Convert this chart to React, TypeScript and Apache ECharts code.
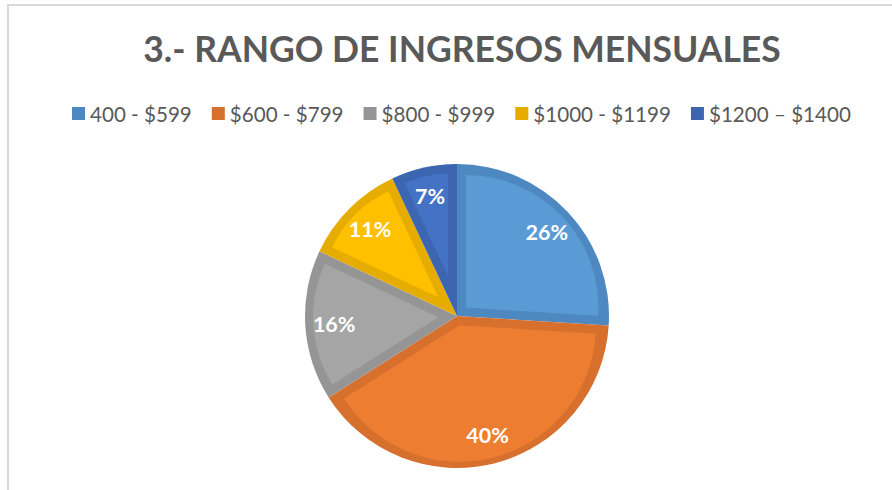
import React, { useEffect, useRef } from "react";
import * as echarts from "echarts";

const categories = ["400 - $599", "$600 - $799", "$800 - $999", "$1000 - $1199", "$1200 – $1400"];
const percents = [26, 40, 16, 11, 7];
const fillColors = ["#5B9BD5", "#ED7D31", "#A5A5A5", "#FFC000", "#4472C4"];
const edgeColors = ["#4E88C1", "#D6702C", "#959595", "#E6AD00", "#3D66B1"];
const titleText = "3.- RANGO DE INGRESOS MENSUALES";

const W = 892;
const H = 490;
const CX = 457;
const CY = 316;
const R = 152;
const EDGE = 9;
const FONT = "Lato, 'Open Sans', sans-serif";

export default function App() {
  const ref = useRef<HTMLDivElement>(null);
  useEffect(() => {
    document.body.style.margin = "0";
    const chart = echarts.init(ref.current!, null, { renderer: "svg" });
    const total = percents.reduce((a, b) => a + b, 0);
    const data = categories.map((name, i) => ({ name, value: percents[i] }));

    let start = 90;
    const innerSeries = percents.map((v, i) => {
      const theta = (v / total) * 360;
      const mid = ((start - theta / 2) * Math.PI) / 180;
      const h = ((theta / 2) * Math.PI) / 180;
      start -= theta;
      const o = EDGE / Math.sin(h);
      const rBis = R - EDGE - o;
      const rEdge = -o * Math.cos(h) + Math.sqrt((R - EDGE) ** 2 - EDGE ** 2);
      const rr = (rBis + rEdge) / 2;
      return {
        type: "pie",
        silent: true,
        center: [CX + o * Math.cos(mid), CY - o * Math.sin(mid)],
        radius: [0, rr],
        startAngle: 90,
        clockwise: true,
        selectedMode: false,
        legendHoverLink: false,
        label: { show: false },
        labelLine: { show: false },
        emphasis: { disabled: true },
        data: data.map((d, j) => ({
          ...d,
          itemStyle: { color: j === i ? fillColors[i] : "rgba(0,0,0,0)", borderWidth: 0 },
        })),
      };
    });

    chart.setOption({
      animation: false,
      backgroundColor: "#ffffff",
      title: {
        text: titleText,
        left: 457,
        top: 25,
        textAlign: "center",
        textStyle: { fontFamily: FONT, fontWeight: "bold", fontSize: 35.5, color: "#595959" },
      },
      legend: {
        data: categories,
        left: 72,
        top: 103,
        padding: 0,
        icon: "rect",
        itemWidth: 13,
        itemHeight: 13,
        itemGap: 20,
        selectedMode: false,
        textStyle: { fontFamily: FONT, fontSize: 20.6, color: "#595959" },
      },
      graphic: [
        {
          type: "rect",
          silent: true,
          shape: { x: 8, y: 5, width: 900, height: 500 },
          style: { fill: "none", stroke: "#D9D9D9", lineWidth: 2 },
        },
      ],
      series: [
        {
          type: "pie",
          silent: true,
          center: [CX, CY],
          radius: [0, R],
          startAngle: 90,
          clockwise: true,
          selectedMode: false,
          label: { show: false },
          labelLine: { show: false },
          emphasis: { disabled: true },
          data: data.map((d, i) => ({ ...d, itemStyle: { color: edgeColors[i], borderWidth: 0 } })),
        },
        ...innerSeries,
        {
          type: "pie",
          silent: true,
          center: [CX, CY],
          radius: [R * 0.58, R],
          startAngle: 90,
          clockwise: true,
          selectedMode: false,
          legendHoverLink: false,
          labelLine: { show: false },
          emphasis: { disabled: true },
          itemStyle: { color: "rgba(0,0,0,0)", borderWidth: 0 },
          label: {
            show: true,
            position: "inside",
            formatter: (p: any) => Math.round(p.percent) + "%",
            color: "#ffffff",
            fontFamily: FONT,
            fontWeight: "bold",
            fontSize: 21.5,
          },
          data: data.map((d) => ({ ...d, itemStyle: { color: "rgba(0,0,0,0)" } })),
        },
      ],
    });
    return () => chart.dispose();
  }, []);
  return <div ref={ref} style={{ width: W, height: H }} />;
}
